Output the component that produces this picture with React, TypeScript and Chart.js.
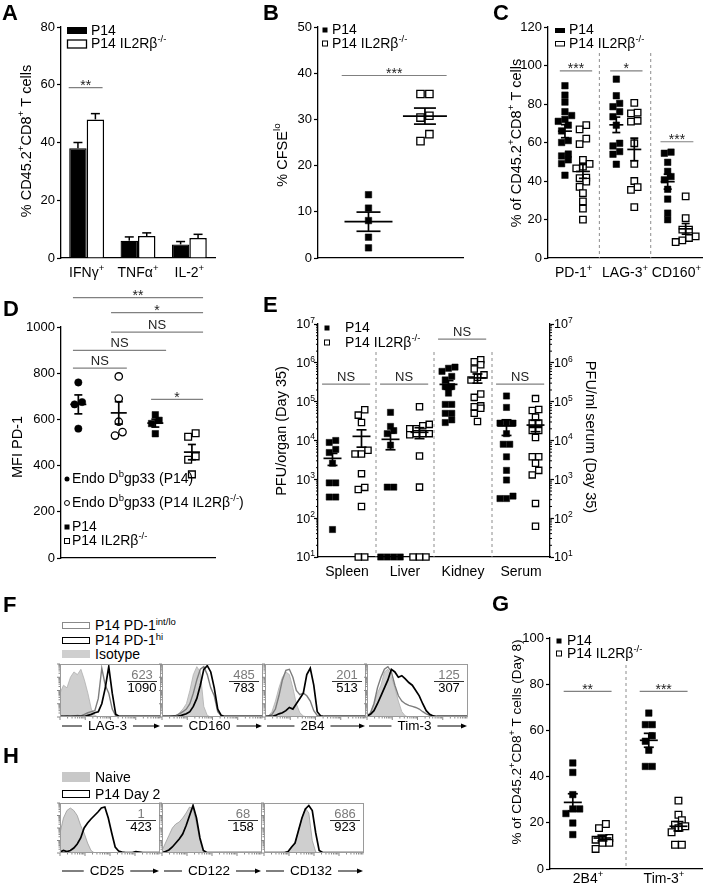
import React, { useEffect, useRef } from 'react';
import { Chart, registerables } from 'chart.js';

Chart.register(...registerables);
const FONT = '"Liberation Sans", Arial, Helvetica, sans-serif';
Chart.defaults.font.family = FONT;
Chart.defaults.font.size = 13;
Chart.defaults.color = '#000';

// ===================== DATA =====================
// Panel A (bars: mean ± SEM)
const A_CATEGORIES = ['IFNγ^{+}', 'TNFα^{+}', 'IL-2^{+}'];
const A_P14_MEAN = [38, 6.0, 4.7];
const A_P14_SEM = [2.0, 1.3, 1.0];
const A_KO_MEAN = [48, 7.6, 6.9];
const A_KO_SEM = [2.0, 1.1, 1.3];

// Panel B (% CFSElo)
const B_P14 = [13.7, 10.8, 8.1, 4.5, 2.2];
const B_KO = [35.5, 35.5, 30.8, 30.4, 26.8, 25.3];

// Panel C
const C_CATEGORIES = ['PD-1^{+}', 'LAG-3^{+}', 'CD160^{+}'];
const C_P14_PD1 = [89.5, 84.6, 81, 76, 74, 72, 71, 69, 66, 61, 60, 54, 53, 51, 49, 43];
const C_KO_PD1 = [69, 66.8, 62, 59.2, 51, 48.9, 47.5, 46.6, 41.8, 41.5, 39.7, 37, 33.7, 29.4, 25.6, 19.9];
const C_P14_LAG3 = [92.9, 84.3, 80.3, 78.6, 76, 73.4, 69, 59.6, 58.2, 55.3, 53.9, 48.7];
const C_KO_LAG3 = [80.6, 75.5, 75.1, 71.3, 70.8, 59.6, 48.9, 40, 36.8, 35.4, 26.4];
const C_P14_CD160 = [55, 54.4, 49.7, 45, 42.3, 40.6, 35.7, 30.6, 23.3, 19.9];
const C_KO_CD160 = [32, 20.7, 14.7, 14.7, 11.2, 10.4, 9.2, 8.3];

// Panel D (MFI PD-1)
const D_ENDO_P14 = [760, 675, 665, 560];
const D_ENDO_KO = [786, 690, 590, 545, 530];
const D_P14 = [620, 596, 582, 538];
const D_KO = [540, 525, 440, 425, 362];

// Panel E (PFU, day 35)
const E_CATEGORIES = ['Spleen', 'Liver', 'Kidney', 'Serum'];
const E_P14_SPLEEN = [10000, 8900, 5900, 4900, 2600, 810, 810, 350, 350, 51];
const E_KO_SPLEEN = [62000, 45000, 29000, 5600, 4500, 4500, 1400, 620, 550, 200, 10, 10];
const E_P14_LIVER = [53000, 23000, 18000, 15000, 7600, 630, 630, 10, 10, 10, 10];
const E_KO_LIVER = [74000, 26000, 24000, 20000, 20000, 15000, 15000, 15000, 14000, 4000, 630, 10, 10, 10];
const E_P14_KIDNEY = [724000, 447000, 363000, 603000, 776000, 245000, 245000, 166000, 85000, 85000, 50000, 50000, 29000, 34000];
const E_KO_KIDNEY = [1070000, 1200000, 891000, 692000, 490000, 427000, 363000, 129000, 158000, 74000, 78000, 68000, 50000, 31000];
const E_P14_SERUM = [140000, 71000, 28000, 28000, 28000, 15000, 8000, 8000, 3800, 1700, 960, 370, 320, 320];
const E_KO_SERUM = [120000, 63000, 59000, 40000, 28000, 28000, 18000, 18000, 12000, 3800, 3800, 2600, 1700, 1300, 240, 62];
const E_DECADES = [1e1, 1e2, 1e3, 1e4, 1e5, 1e6, 1e7];

// Panel G (day 8)
const G_CATEGORIES = ['2B4^{+}', 'Tim-3^{+}'];
const G_P14_2B4 = [45.9, 41.8, 32.2, 26, 26, 24, 19.9, 14.9];
const G_KO_2B4 = [19.5, 17.7, 13.4, 12.7, 12.7, 11.3, 11.3, 8.7];
const G_P14_TIM3 = [67.5, 62.5, 62.5, 57.7, 55.3, 51.4, 44.4, 44.4];
const G_KO_TIM3 = [29.6, 23.5, 21.1, 19.2, 18.5, 17.7, 15.9, 10.5, 10.5];

// Panel F histograms (30 bins, % of max)
const F_MARKERS = ['LAG-3', 'CD160', '2B4', 'Tim-3'];
const F_ISOTYPE = [
  [45, 60, 55, 75, 85, 80, 90, 70, 45, 15, 3, 0, 0, 0, 0, 0, 0, 0, 0, 0, 0, 0, 0, 0, 0, 0, 0, 0, 0, 0],
  [0, 0, 0, 0, 2, 8, 15, 25, 50, 80, 95, 85, 20, 3, 0, 0, 0, 0, 0, 0, 0, 0, 0, 0, 0, 0, 0, 0, 0, 0],
  [0, 2, 10, 30, 55, 75, 85, 80, 55, 25, 8, 2, 0, 0, 0, 0, 0, 0, 0, 0, 0, 0, 0, 0, 0, 0, 0, 0, 0, 0],
  [2, 8, 25, 45, 60, 85, 90, 75, 55, 30, 10, 2, 0, 0, 0, 0, 0, 0, 0, 0, 0, 0, 0, 0, 0, 0, 0, 0, 0, 0],
];
const F_INTLO = [
  [2, 1, 2, 1, 2, 3, 2, 5, 8, 10, 12, 35, 92, 60, 45, 15, 2, 1, 1, 1, 1, 1, 1, 1, 1, 1, 1, 1, 1, 1],
  [1, 1, 1, 2, 3, 6, 10, 15, 25, 45, 70, 90, 95, 80, 55, 40, 10, 2, 1, 1, 1, 1, 1, 1, 1, 1, 1, 1, 1, 1],
  [1, 2, 5, 15, 40, 70, 88, 90, 75, 50, 42, 45, 40, 30, 12, 3, 1, 1, 1, 1, 1, 1, 1, 1, 1, 1, 1, 1, 1, 1],
  [2, 8, 25, 55, 75, 90, 95, 85, 60, 40, 30, 25, 22, 20, 18, 15, 10, 6, 3, 1, 1, 1, 1, 1, 1, 1, 1, 1, 1, 1],
];
const F_HI = [
  [1, 1, 1, 1, 1, 1, 1, 1, 3, 5, 8, 10, 25, 55, 95, 45, 5, 1, 1, 1, 1, 1, 1, 1, 1, 1, 1, 1, 1, 1],
  [1, 1, 1, 1, 1, 2, 4, 6, 10, 20, 35, 60, 90, 97, 85, 55, 15, 3, 1, 1, 1, 1, 1, 1, 1, 1, 1, 1, 1, 1],
  [1, 1, 1, 3, 6, 8, 12, 18, 15, 25, 35, 45, 80, 92, 60, 10, 2, 1, 1, 1, 1, 1, 1, 1, 1, 1, 1, 1, 1, 1],
  [2, 5, 12, 25, 40, 55, 70, 90, 85, 75, 78, 72, 65, 60, 50, 40, 25, 12, 5, 2, 1, 1, 1, 1, 1, 1, 1, 1, 1, 1],
];
const F_MFI_INTLO = ['623', '485', '201', '125'];
const F_MFI_HI = ['1090', '783', '513', '307'];

// Panel H histograms
const H_MARKERS = ['CD25', 'CD122', 'CD132'];
const H_NAIVE = [
  [40, 70, 85, 90, 85, 75, 55, 40, 20, 5, 0, 0, 0, 0, 0, 0, 0, 0, 0, 0, 0, 0, 0, 0, 0, 0, 0, 0, 0, 0],
  [5, 20, 35, 50, 58, 62, 70, 80, 92, 88, 60, 25, 3, 0, 0, 0, 0, 0, 0, 0, 0, 0, 0, 0, 0, 0, 0, 0, 0, 0],
  [0, 0, 0, 0, 0, 0, 0, 2, 10, 20, 45, 70, 90, 80, 25, 2, 0, 0, 0, 0, 0, 0, 0, 0, 0, 0, 0, 0, 0, 0],
];
const H_DAY2 = [
  [2, 5, 3, 5, 10, 18, 30, 50, 60, 68, 75, 82, 90, 92, 70, 40, 12, 4, 2, 1, 1, 1, 3, 2, 1, 1, 1, 1, 1, 1],
  [1, 3, 6, 12, 20, 28, 38, 55, 75, 95, 70, 30, 5, 1, 1, 1, 1, 1, 1, 1, 1, 1, 1, 1, 1, 1, 1, 1, 1, 1],
  [1, 1, 1, 1, 1, 1, 1, 3, 12, 20, 45, 70, 88, 95, 85, 40, 5, 1, 1, 1, 1, 1, 1, 1, 1, 1, 1, 1, 1, 1],
];
const H_MFI_NAIVE = ['1', '68', '686'];
const H_MFI_DAY2 = ['423', '158', '923'];

// ===================== HELPERS =====================
type Box = { l: number; t: number; r: number; b: number };

function parseRich(s: string) {
  const out: { t: string; sup: boolean }[] = [];
  s.split(/(\^\{[^}]*\})/).forEach((p) => {
    if (!p) return;
    if (p.startsWith('^{')) out.push({ t: p.slice(2, -1), sup: true });
    else out.push({ t: p, sup: false });
  });
  return out;
}

function drawRich(ctx: CanvasRenderingContext2D, text: string, x: number, y: number, o: any) {
  const size = o.size || 14;
  const ss = size * 0.68;
  const segs = parseRich(text);
  ctx.save();
  ctx.translate(x, y);
  if (o.rot) ctx.rotate(o.rot);
  ctx.fillStyle = o.color || '#000';
  ctx.textBaseline = 'middle';
  ctx.textAlign = 'left';
  const fontOf = (sup: boolean) => `${o.bold ? 'bold ' : ''}${sup ? ss : size}px ${FONT}`;
  let total = 0;
  const widths = segs.map((s) => {
    ctx.font = fontOf(s.sup);
    const w = ctx.measureText(s.t).width;
    total += w;
    return w;
  });
  let cx = o.align === 'center' ? -total / 2 : o.align === 'right' ? -total : 0;
  segs.forEach((s, i) => {
    ctx.font = fontOf(s.sup);
    ctx.fillText(s.t, cx, s.sup ? -size * 0.36 : 0);
    cx += widths[i];
  });
  ctx.restore();
  return total;
}

function line(ctx: CanvasRenderingContext2D, x1: number, y1: number, x2: number, y2: number) {
  ctx.beginPath();
  ctx.moveTo(x1, y1);
  ctx.lineTo(x2, y2);
  ctx.stroke();
}

function meanSem(a: number[]) {
  const n = a.length;
  const m = a.reduce((s, v) => s + v, 0) / n;
  const sd = Math.sqrt(a.reduce((s, v) => s + (v - m) * (v - m), 0) / (n - 1));
  return { m, sem: sd / Math.sqrt(n) };
}

function swarm(vals: number[], center: number, toPx: (v: number) => number, unitPx: number, size: number) {
  const ys = vals.map(toPx);
  const order = vals.map((_, i) => i).sort((a, b) => ys[a] - ys[b]);
  const offs = new Array(vals.length).fill(0);
  let i = 0;
  while (i < order.length) {
    let j = i;
    while (j + 1 < order.length && ys[order[j + 1]] - ys[order[i]] < size * 0.9) j++;
    const n = j - i + 1;
    for (let k = 0; k < n; k++) offs[order[i + k]] = (k - (n - 1) / 2) * size;
    i = j + 1;
  }
  return vals.map((v, k) => ({ x: center + offs[k] / unitPx, y: v }));
}

function pts(label: string, points: any[], kind: string, r: number) {
  const filled = kind === 'sq' || kind === 'ci';
  const style = kind.endsWith('sq') ? 'rect' : 'circle';
  return {
    label,
    data: points,
    showLine: false,
    clip: false,
    pointStyle: style,
    pointRadius: r,
    pointBackgroundColor: filled ? '#000' : '#fff',
    backgroundColor: filled ? '#000' : '#fff',
    pointBorderColor: '#000',
    borderColor: '#000',
    pointBorderWidth: filled ? 0.5 : 1.3,
    borderWidth: filled ? 0.5 : 1.3,
  };
}

function base(canvas: Box, plot: Box, rightAxis = false) {
  return {
    responsive: false,
    maintainAspectRatio: false,
    animation: false,
    devicePixelRatio: 1,
    events: [],
    layout: { padding: { top: plot.t - canvas.t, right: rightAxis ? 0 : canvas.r - plot.r, left: 0, bottom: 0 } },
    plugins: { legend: { display: false }, tooltip: { enabled: false }, title: { display: false } },
  };
}

function linY(min: number, max: number, step: number, width: number) {
  return {
    type: 'linear',
    min,
    max,
    afterFit: (s: any) => {
      s.width = width;
    },
    ticks: { stepSize: step, font: { size: 13, family: FONT }, color: '#000', padding: 2, callback: (v: any) => String(v) },
    grid: { display: true, drawOnChartArea: false, drawTicks: true, tickLength: 4, tickColor: '#000', tickWidth: 1.2 },
    border: { display: true, color: '#000', width: 1.3 },
  };
}

function hidX(type: string, min: number | undefined, max: number | undefined, height: number) {
  const o: any = {
    type,
    afterFit: (s: any) => {
      s.height = height;
    },
    ticks: { display: false },
    grid: { display: false },
    border: { display: true, color: '#000', width: 1.3 },
  };
  if (type === 'category') o.offset = true;
  if (min !== undefined) o.min = min;
  if (max !== undefined) o.max = max;
  return o;
}

function decorPlugin(canvas: Box, fn: (d: any) => void) {
  return {
    id: 'decor',
    afterDraw(chart: any) {
      const ctx = chart.ctx as CanvasRenderingContext2D;
      const sx = chart.scales.x;
      const sy = chart.scales.y;
      const ca = chart.chartArea;
      const d = {
        ctx,
        chart,
        ox: canvas.l,
        oy: canvas.t,
        X: (v: number) => sx.getPixelForValue(v) + canvas.l,
        Y: (v: number) => sy.getPixelForValue(v) + canvas.t,
        area: { l: ca.left + canvas.l, t: ca.top + canvas.t, r: ca.right + canvas.l, b: ca.bottom + canvas.t },
      };
      ctx.save();
      ctx.translate(-canvas.l, -canvas.t);
      fn(d);
      ctx.restore();
    },
  };
}

function drawSig(d: any, x1: number, x2: number, yv: number, label: string) {
  const { ctx } = d;
  const y = d.Y(yv);
  const a = d.X(x1);
  const b = d.X(x2);
  ctx.strokeStyle = '#808080';
  ctx.lineWidth = 1.2;
  line(ctx, a, y, b, y);
  ctx.fillStyle = '#222';
  ctx.textAlign = 'center';
  ctx.textBaseline = 'alphabetic';
  if (label === 'NS') {
    ctx.font = `13px ${FONT}`;
    ctx.fillText(label, (a + b) / 2, y - 3);
  } else {
    ctx.font = `14px ${FONT}`;
    ctx.fillText(label, (a + b) / 2, y + 2.5);
  }
}

function drawMean(d: any, xc: number, vals: number[], hw: number, cw: number, floor?: number) {
  const { ctx } = d;
  const { m, sem } = meanSem(vals);
  const x = d.X(xc);
  const lo = floor !== undefined ? Math.max(m - sem, floor) : m - sem;
  const ym = d.Y(m);
  const yt = d.Y(m + sem);
  const yb = d.Y(lo);
  ctx.strokeStyle = '#000';
  ctx.lineWidth = 1.7;
  line(ctx, x - hw, ym, x + hw, ym);
  line(ctx, x, yt, x, yb);
  line(ctx, x - cw, yt, x + cw, yt);
  line(ctx, x - cw, yb, x + cw, yb);
}

function marker(ctx: CanvasRenderingContext2D, kind: string, x: number, y: number, s: number) {
  ctx.lineWidth = 1;
  ctx.strokeStyle = '#000';
  if (kind === 'sq') {
    ctx.fillStyle = '#000';
    ctx.fillRect(x - s / 2, y - s / 2, s, s);
  } else if (kind === 'hsq') {
    ctx.fillStyle = '#fff';
    ctx.fillRect(x - s / 2, y - s / 2, s, s);
    ctx.strokeRect(x - s / 2, y - s / 2, s, s);
  } else if (kind === 'ci') {
    ctx.fillStyle = '#000';
    ctx.beginPath();
    ctx.arc(x, y, s / 2, 0, Math.PI * 2);
    ctx.fill();
  } else {
    ctx.beginPath();
    ctx.arc(x, y, s / 2, 0, Math.PI * 2);
    ctx.stroke();
  }
}

function divider(d: any, xv: number, yTopPx: number) {
  const { ctx } = d;
  ctx.save();
  ctx.strokeStyle = '#8c8c8c';
  ctx.lineWidth = 1;
  ctx.setLineDash([3, 3]);
  line(ctx, d.X(xv), yTopPx, d.X(xv), d.area.b);
  ctx.restore();
}

const LEGEND_P14 = 'P14';
const LEGEND_KO = 'P14 IL2Rβ^{-/-}';
const ROT_UP = -Math.PI / 2;

// ===================== PANEL SPECS =====================
type Spec = { key: string; canvas: Box; make: () => any };

const A_CANVAS: Box = { l: 0, t: 0, r: 240, b: 292 };
const A_PLOT: Box = { l: 61, t: 27, r: 215, b: 258 };
const specA: Spec = {
  key: 'A',
  canvas: A_CANVAS,
  make: () => ({
    type: 'bar',
    data: {
      labels: A_CATEGORIES,
      datasets: [
        { label: 'P14', data: A_P14_MEAN, backgroundColor: '#000', borderColor: '#000', borderWidth: 1.3, categoryPercentage: 0.68, barPercentage: 1 },
        { label: 'P14 IL2Rb-/-', data: A_KO_MEAN, backgroundColor: '#fff', borderColor: '#000', borderWidth: 1.5, categoryPercentage: 0.68, barPercentage: 1 },
      ],
    },
    options: {
      ...base(A_CANVAS, A_PLOT),
      scales: { x: hidX('category', undefined, undefined, A_CANVAS.b - A_PLOT.b), y: linY(0, 80, 20, A_PLOT.l - A_CANVAS.l) },
    },
    plugins: [
      decorPlugin(A_CANVAS, (d) => {
        const { ctx, chart } = d;
        const sets = [
          { v: A_P14_MEAN, e: A_P14_SEM },
          { v: A_KO_MEAN, e: A_KO_SEM },
        ];
        sets.forEach((s, di) => {
          const meta = chart.getDatasetMeta(di);
          meta.data.forEach((bar: any, j: number) => {
            const x = bar.x + d.ox;
            const y0 = d.Y(s.v[j]);
            const y1 = d.Y(s.v[j] + s.e[j]);
            ctx.strokeStyle = '#000';
            ctx.lineWidth = 1.5;
            line(ctx, x, y0, x, y1);
            line(ctx, x - 4.5, y1, x + 4.5, y1);
          });
        });
        A_CATEGORIES.forEach((c, j) => drawRich(ctx, c, d.X(j), 273, { size: 14, align: 'center' }));
        drawSig(d, -0.35, 0.31, 59, '**');
        ctx.fillStyle = '#000';
        ctx.fillRect(67, 27, 20, 7);
        ctx.fillStyle = '#fff';
        ctx.strokeStyle = '#000';
        ctx.lineWidth = 1.3;
        ctx.fillRect(67.5, 40, 19, 8);
        ctx.strokeRect(67.5, 40, 19, 8);
        drawRich(ctx, LEGEND_P14, 91, 31, { size: 14 });
        drawRich(ctx, LEGEND_KO, 91, 44.5, { size: 14 });
        drawRich(ctx, '% CD45.2^{+}CD8^{+} T cells', 27, 141, { size: 14.5, align: 'center', rot: ROT_UP });
      }),
    ],
  }),
};

const B_CANVAS: Box = { l: 240, t: 0, r: 470, b: 292 };
const B_PLOT: Box = { l: 318, t: 27, r: 465, b: 258 };
const B_X = [0.347, 0.735];
const specB: Spec = {
  key: 'B',
  canvas: B_CANVAS,
  make: () => {
    const toPx = (v: number) => (v * 231) / 50;
    const unit = 147;
    return {
      type: 'scatter',
      data: {
        datasets: [
          pts('P14', swarm(B_P14, B_X[0], toPx, unit, 7.5), 'sq', 4.6),
          pts('KO', swarm(B_KO, B_X[1], toPx, unit, 9), 'hsq', 5.2),
        ],
      },
      options: {
        ...base(B_CANVAS, B_PLOT),
        scales: { x: hidX('linear', 0, 1, B_CANVAS.b - B_PLOT.b), y: linY(0, 50, 10, B_PLOT.l - B_CANVAS.l) },
      },
      plugins: [
        decorPlugin(B_CANVAS, (d) => {
          const { ctx } = d;
          drawMean(d, B_X[0], B_P14, 24, 12);
          drawMean(d, B_X[1], B_KO, 22, 11);
          drawSig(d, 0.163, 0.884, 39.5, '***');
          marker(ctx, 'sq', 325, 30, 5);
          marker(ctx, 'hsq', 325, 43.5, 5);
          drawRich(ctx, LEGEND_P14, 332, 30.5, { size: 14 });
          drawRich(ctx, LEGEND_KO, 332, 44, { size: 14 });
          drawRich(ctx, '% CFSE^{lo}', 283, 155, { size: 14.5, align: 'center', rot: ROT_UP });
        }),
      ],
    };
  },
};

const C_CANVAS: Box = { l: 470, t: 0, r: 708, b: 292 };
const C_PLOT: Box = { l: 548, t: 27, r: 705, b: 258 };
const specC: Spec = {
  key: 'C',
  canvas: C_CANVAS,
  make: () => {
    const toPx = (v: number) => (v * 231) / 120;
    const unit = 157 / 3;
    const p14 = [C_P14_PD1, C_P14_LAG3, C_P14_CD160];
    const ko = [C_KO_PD1, C_KO_LAG3, C_KO_CD160];
    const p14Pts = p14.flatMap((g, i) => swarm(g, i - 0.17, toPx, unit, 6.8));
    const koPts = ko.flatMap((g, i) => swarm(g, i + 0.18, toPx, unit, 6.8));
    return {
      type: 'scatter',
      data: { datasets: [pts('P14', p14Pts, 'sq', 4.6), pts('KO', koPts, 'hsq', 4.6)] },
      options: {
        ...base(C_CANVAS, C_PLOT),
        scales: { x: hidX('linear', -0.5, 2.5, C_CANVAS.b - C_PLOT.b), y: linY(0, 120, 20, C_PLOT.l - C_CANVAS.l) },
      },
      plugins: [
        decorPlugin(C_CANVAS, (d) => {
          const { ctx } = d;
          divider(d, 0.5, 53);
          divider(d, 1.5, 53);
          p14.forEach((g, i) => drawMean(d, i - 0.17, g, 7, 4));
          ko.forEach((g, i) => drawMean(d, i + 0.18, g, 7, 4));
          drawSig(d, -0.27, 0.36, 97.2, '***');
          drawSig(d, 0.71, 1.34, 97.2, '*');
          drawSig(d, 1.69, 2.33, 60.4, '***');
          C_CATEGORIES.forEach((c, j) => drawRich(ctx, c, d.X(j), 273, { size: 14, align: 'center' }));
          ctx.fillStyle = '#000';
          ctx.fillRect(555, 28, 10, 5);
          ctx.strokeStyle = '#000';
          ctx.lineWidth = 1;
          ctx.strokeRect(555.5, 41.5, 9, 4.5);
          drawRich(ctx, LEGEND_P14, 569, 30.5, { size: 14 });
          drawRich(ctx, LEGEND_KO, 569, 44, { size: 14 });
          drawRich(ctx, '% of CD45.2^{+}CD8^{+} T cells', 517, 143, { size: 14.5, align: 'center', rot: ROT_UP });
        }),
      ],
    };
  },
};

const D_CANVAS: Box = { l: 0, t: 285, r: 262, b: 600 };
const D_PLOT: Box = { l: 61, t: 327, r: 215, b: 558 };
const D_X = [0.45, 1.5, 2.45, 3.4];
const specD: Spec = {
  key: 'D',
  canvas: D_CANVAS,
  make: () => {
    const toPx = (v: number) => (v * 231) / 1000;
    const unit = 38.5;
    const groups = [D_ENDO_P14, D_ENDO_KO, D_P14, D_KO];
    const kinds = ['ci', 'hci', 'sq', 'hsq'];
    const radii = [3.7, 3.7, 4.6, 4.8];
    return {
      type: 'scatter',
      data: {
        datasets: groups.map((g, i) => pts('g' + i, swarm(g, D_X[i], toPx, unit, 7.5), kinds[i], radii[i])),
      },
      options: {
        ...base(D_CANVAS, D_PLOT),
        scales: { x: hidX('linear', 0, 4, D_CANVAS.b - D_PLOT.b), y: linY(0, 1000, 200, D_PLOT.l - D_CANVAS.l) },
      },
      plugins: [
        decorPlugin(D_CANVAS, (d) => {
          const { ctx } = d;
          groups.forEach((g, i) => drawMean(d, D_X[i], g, 8, 4));
          drawSig(d, 0.31, 3.69, 1127, '**');
          drawSig(d, 1.3, 3.69, 1062, '*');
          drawSig(d, 1.3, 3.69, 978, 'NS');
          drawSig(d, 0.31, 2.73, 899, 'NS');
          drawSig(d, 0.31, 1.71, 822, 'NS');
          drawSig(d, 2.34, 3.69, 687, '*');
          const rows = [
            { y: 479, m: 'ci', t: 'Endo D^{b}gp33 (P14)' },
            { y: 503, m: 'hci', t: 'Endo D^{b}gp33 (P14 IL2Rβ^{-/-})' },
            { y: 527, m: 'sq', t: 'P14' },
            { y: 541, m: 'hsq', t: 'P14 IL2Rβ^{-/-}' },
          ];
          rows.forEach((r) => {
            marker(ctx, r.m, 67, r.y, 5);
            drawRich(ctx, r.t, 72, r.y, { size: 14 });
          });
          drawRich(ctx, 'MFI PD-1', 18, 447, { size: 14.5, align: 'center', rot: ROT_UP });
        }),
      ],
    };
  },
};

const E_CANVAS: Box = { l: 262, t: 285, r: 620, b: 600 };
const E_PLOT: Box = { l: 318, t: 324, r: 550, b: 557 };
const specE: Spec = {
  key: 'E',
  canvas: E_CANVAS,
  make: () => {
    const toPx = (v: number) => ((Math.log10(v) - 1) / 6) * 233;
    const unit = 58;
    const p14 = [E_P14_SPLEEN, E_P14_LIVER, E_P14_KIDNEY, E_P14_SERUM];
    const ko = [E_KO_SPLEEN, E_KO_LIVER, E_KO_KIDNEY, E_KO_SERUM];
    const p14Pts = p14.flatMap((g, i) => swarm(g, i - 0.25, toPx, unit, 6.5));
    const koPts = ko.flatMap((g, i) => swarm(g, i + 0.25, toPx, unit, 6.5));
    const logAxis = (pos: string, width: number) => ({
      type: 'logarithmic',
      position: pos,
      min: 10,
      max: 1e7,
      afterFit: (s: any) => {
        s.width = width;
      },
      afterBuildTicks: (s: any) => {
        s.ticks = E_DECADES.map((v) => ({ value: v }));
      },
      ticks: { display: false, autoSkip: false },
      grid: { display: true, drawOnChartArea: false, drawTicks: true, tickLength: 4, tickColor: '#000', tickWidth: 1.2 },
      border: { display: true, color: '#000', width: 1.3 },
    });
    return {
      type: 'scatter',
      data: { datasets: [pts('P14', p14Pts, 'sq', 4.4), pts('KO', koPts, 'hsq', 4.4)] },
      options: {
        ...base(E_CANVAS, E_PLOT, true),
        scales: {
          x: hidX('linear', -0.5, 3.5, E_CANVAS.b - E_PLOT.b),
          y: logAxis('left', E_PLOT.l - E_CANVAS.l),
          y2: logAxis('right', E_CANVAS.r - E_PLOT.r),
        },
      },
      plugins: [
        decorPlugin(E_CANVAS, (d) => {
          const { ctx, area } = d;
          [0.5, 1.5, 2.5].forEach((x) => divider(d, x, 352));
          ctx.strokeStyle = '#000';
          ctx.lineWidth = 1;
          for (let e = 1; e < 7; e++) {
            for (let k = 2; k <= 9; k++) {
              const y = d.Y(k * Math.pow(10, e));
              line(ctx, area.l - 2, y, area.l, y);
              line(ctx, area.r, y, area.r + 2, y);
            }
          }
          E_DECADES.forEach((v) => {
            const e = Math.round(Math.log10(v));
            drawRich(ctx, `10^{${e}}`, 315, d.Y(v) + 1, { size: 12.5, align: 'right' });
            drawRich(ctx, `10^{${e}}`, 554, d.Y(v) + 1, { size: 12.5, align: 'left' });
          });
          p14.forEach((g, i) => drawMean(d, i - 0.25, g, 9, 5, 10));
          ko.forEach((g, i) => drawMean(d, i + 0.25, g, 9, 5, 10));
          drawSig(d, -0.43, 0.4, Math.pow(10, 5.45), 'NS');
          drawSig(d, 0.57, 1.4, Math.pow(10, 5.45), 'NS');
          drawSig(d, 1.57, 2.4, Math.pow(10, 6.61), 'NS');
          drawSig(d, 2.57, 3.4, Math.pow(10, 5.45), 'NS');
          E_CATEGORIES.forEach((c, j) => drawRich(ctx, c, d.X(j), 572, { size: 14, align: 'center' }));
          marker(ctx, 'sq', 327, 328, 5);
          marker(ctx, 'hsq', 327, 342.5, 5);
          drawRich(ctx, LEGEND_P14, 345, 328.5, { size: 14 });
          drawRich(ctx, LEGEND_KO, 345, 343, { size: 14 });
          drawRich(ctx, 'PFU/organ (Day 35)', 282, 431, { size: 14.5, align: 'center', rot: ROT_UP });
          drawRich(ctx, 'PFU/ml serum (Day 35)', 590, 437, { size: 14.5, align: 'center', rot: Math.PI / 2 });
        }),
      ],
    };
  },
};

const G_CANVAS: Box = { l: 470, t: 598, r: 708, b: 892 };
const G_PLOT: Box = { l: 550, t: 638, r: 705, b: 869 };
const specG: Spec = {
  key: 'G',
  canvas: G_CANVAS,
  make: () => {
    const toPx = (v: number) => (v * 231) / 100;
    const unit = 77.5;
    const p14 = [G_P14_2B4, G_P14_TIM3];
    const ko = [G_KO_2B4, G_KO_TIM3];
    const p14Pts = p14.flatMap((g, i) => swarm(g, i - 0.2, toPx, unit, 7));
    const koPts = ko.flatMap((g, i) => swarm(g, i + 0.19, toPx, unit, 7));
    return {
      type: 'scatter',
      data: { datasets: [pts('P14', p14Pts, 'sq', 4.6), pts('KO', koPts, 'hsq', 4.7)] },
      options: {
        ...base(G_CANVAS, G_PLOT),
        scales: { x: hidX('linear', -0.5, 1.5, G_CANVAS.b - G_PLOT.b), y: linY(0, 100, 20, G_PLOT.l - G_CANVAS.l) },
      },
      plugins: [
        decorPlugin(G_CANVAS, (d) => {
          const { ctx } = d;
          divider(d, 0.5, 665);
          p14.forEach((g, i) => drawMean(d, i - 0.2, g, 9, 5));
          ko.forEach((g, i) => drawMean(d, i + 0.19, g, 9, 5));
          drawSig(d, -0.32, 0.31, 76.9, '**');
          drawSig(d, 0.68, 1.31, 76.9, '***');
          G_CATEGORIES.forEach((c, j) => drawRich(ctx, c, d.X(j), 879, { size: 14, align: 'center' }));
          marker(ctx, 'sq', 559, 641, 5);
          marker(ctx, 'hsq', 559, 653.5, 5);
          drawRich(ctx, LEGEND_P14, 567, 641.5, { size: 14 });
          drawRich(ctx, LEGEND_KO, 567, 654.5, { size: 14 });
          drawRich(ctx, '% of CD45.2^{+}CD8^{+} T cells (Day 8)', 517, 742, { size: 13.5, align: 'center', rot: ROT_UP });
        }),
      ],
    };
  },
};

// Histogram panels
const BIN_LABELS = Array.from({ length: 30 }, (_, i) => String(i));
const F_BOXES: Box[] = [
  { l: 60, t: 664, r: 161, b: 717 },
  { l: 162, t: 664, r: 263, b: 717 },
  { l: 265, t: 664, r: 366, b: 717 },
  { l: 367, t: 664, r: 468, b: 717 },
];
const H_BOXES: Box[] = [
  { l: 60, t: 803, r: 160, b: 853 },
  { l: 162, t: 803, r: 262, b: 853 },
  { l: 264, t: 803, r: 364, b: 853 },
];

function histSpec(key: string, box: Box, series: any[], marker: string, top: string, bottom: string, labelDy: number): Spec {
  const canvas: Box = { l: box.l - 4, t: box.t - 2, r: box.r + 2, b: box.b + 28 };
  return {
    key,
    canvas,
    make: () => ({
      type: 'line',
      data: {
        labels: BIN_LABELS,
        datasets: series.map((s) => ({
          label: s.label,
          data: s.data,
          fill: s.fill ? 'origin' : false,
          backgroundColor: s.fill ? '#cfcfcf' : 'transparent',
          borderColor: s.color,
          borderWidth: s.width,
          pointRadius: 0,
          tension: 0,
          order: s.order,
        })),
      },
      options: {
        ...base(canvas, box),
        layout: { padding: { left: box.l - canvas.l, top: box.t - canvas.t, right: canvas.r - box.r, bottom: canvas.b - box.b } },
        scales: {
          x: { type: 'category', display: false, offset: false },
          y: { type: 'linear', display: false, min: 0, max: 100 },
        },
      },
      plugins: [
        decorPlugin(canvas, (d) => {
          const { ctx, area } = d;
          const w = area.r - area.l;
          const h = area.b - area.t;
          ctx.strokeStyle = '#9a9a9a';
          ctx.lineWidth = 1;
          ctx.strokeRect(area.l + 0.5, area.t + 0.5, w - 1, h - 1);
          ctx.strokeStyle = '#888';
          for (let k = 0; k < 4; k++) {
            for (let m = 1; m <= 9; m++) {
              const x = area.l + ((k + Math.log10(m)) / 4) * w;
              line(ctx, x, area.b, x, area.b + (m === 1 ? 3 : 1.5));
            }
          }
          for (let k = 0; k < 5; k++) {
            for (let m = 1; m <= 9; m++) {
              if (k === 4 && m > 1) break;
              const y = area.b - ((k + Math.log10(m)) / 4) * h;
              line(ctx, area.l - (m === 1 ? 3 : 1.5), y, area.l, y);
            }
          }
          const cx = area.r - 19;
          ctx.font = `13px ${FONT}`;
          ctx.textAlign = 'center';
          ctx.textBaseline = 'middle';
          ctx.fillStyle = '#7a7a7a';
          ctx.fillText(top, cx, area.t + 11);
          ctx.strokeStyle = '#333';
          ctx.lineWidth = 1;
          line(ctx, area.r - 34, area.t + 17.5, area.r - 4, area.t + 17.5);
          ctx.fillStyle = '#000';
          ctx.fillText(bottom, cx, area.t + 24.5);
          // axis label with arrow
          const y = area.b + labelDy;
          ctx.font = `13.5px ${FONT}`;
          const tw = ctx.measureText(marker).width;
          const tc = area.l + 0.47 * w;
          const t1 = tc - tw / 2;
          const t2 = tc + tw / 2;
          ctx.strokeStyle = '#000';
          ctx.lineWidth = 1;
          line(ctx, area.l + 2, y, t1 - 6, y);
          line(ctx, t2 + 6, y, area.r - 5, y);
          ctx.beginPath();
          ctx.moveTo(area.r - 1, y);
          ctx.lineTo(area.r - 7, y - 2.5);
          ctx.lineTo(area.r - 7, y + 2.5);
          ctx.closePath();
          ctx.fill();
          ctx.textAlign = 'left';
          ctx.fillText(marker, t1, y);
        }),
      ],
    }),
  };
}

const F_SPECS: Spec[] = F_MARKERS.map((m, i) =>
  histSpec(
    'F' + i,
    F_BOXES[i],
    [
      { label: 'Isotype', data: F_ISOTYPE[i], fill: true, color: '#b0b0b0', width: 0.8, order: 3 },
      { label: 'P14 PD-1 int/lo', data: F_INTLO[i], fill: false, color: '#7d7d7d', width: 1.4, order: 2 },
      { label: 'P14 PD-1 hi', data: F_HI[i], fill: false, color: '#000', width: 1.7, order: 1 },
    ],
    m,
    F_MFI_INTLO[i],
    F_MFI_HI[i],
    9
  )
);

const H_SPECS: Spec[] = H_MARKERS.map((m, i) =>
  histSpec(
    'H' + i,
    H_BOXES[i],
    [
      { label: 'Naive', data: H_NAIVE[i], fill: true, color: '#9c9c9c', width: 0.8, order: 2 },
      { label: 'P14 Day 2', data: H_DAY2[i], fill: false, color: '#000', width: 1.7, order: 1 },
    ],
    m,
    H_MFI_NAIVE[i],
    H_MFI_DAY2[i],
    18
  )
);

const SPECS: Spec[] = [specA, specB, specC, specD, specE, specG, ...F_SPECS, ...H_SPECS];

// ===================== COMPONENTS =====================
function ChartCanvas({ spec }: { spec: Spec }) {
  const ref = useRef<HTMLCanvasElement | null>(null);
  useEffect(() => {
    const chart = new Chart(ref.current as HTMLCanvasElement, spec.make());
    return () => chart.destroy();
  }, [spec]);
  const w = spec.canvas.r - spec.canvas.l;
  const h = spec.canvas.b - spec.canvas.t;
  return (
    <canvas
      ref={ref}
      width={w}
      height={h}
      style={{ position: 'absolute', left: spec.canvas.l, top: spec.canvas.t, width: w, height: h }}
    />
  );
}

const Sup = ({ children }: { children: any }) => (
  <span style={{ fontSize: '0.68em', position: 'relative', top: '-0.48em' }}>{children}</span>
);

function Letter({ x, y, t }: { x: number; y: number; t: string }) {
  return (
    <div style={{ position: 'absolute', left: x, top: y, fontSize: 22, lineHeight: '22px', fontWeight: 'bold', fontFamily: FONT }}>{t}</div>
  );
}

function LegendRow({ y, box, children }: { y: number; box: any; children: any }) {
  return (
    <>
      <div style={{ position: 'absolute', left: 62, top: y - box.h / 2, width: 28, height: box.h, boxSizing: 'border-box', ...box.style }} />
      <div style={{ position: 'absolute', left: 95, top: y - 8, lineHeight: '16px', fontSize: 14, fontFamily: FONT, whiteSpace: 'nowrap' }}>{children}</div>
    </>
  );
}

export default function App() {
  return (
    <div style={{ position: 'absolute', left: 0, top: 0, width: 708, height: 892, background: '#fff', overflow: 'hidden', fontFamily: FONT }}>
      {SPECS.map((s) => (
        <ChartCanvas key={s.key} spec={s} />
      ))}
      <Letter x={2} y={2} t="A" />
      <Letter x={263} y={2} t="B" />
      <Letter x={493} y={2} t="C" />
      <Letter x={3} y={298} t="D" />
      <Letter x={263} y={294} t="E" />
      <Letter x={3} y={594} t="F" />
      <Letter x={492} y={593} t="G" />
      <Letter x={3} y={745} t="H" />

      <LegendRow y={625} box={{ h: 7, style: { border: '1.3px solid #8a8a8a', background: '#fff' } }}>
        P14 PD-1<Sup>int/lo</Sup>
      </LegendRow>
      <LegendRow y={640} box={{ h: 7, style: { border: '1.6px solid #000', background: '#fff' } }}>
        P14 PD-1<Sup>hi</Sup>
      </LegendRow>
      <LegendRow y={654} box={{ h: 8, style: { background: '#cfcfcf' } }}>
        Isotype
      </LegendRow>
      <LegendRow y={777} box={{ h: 10, style: { background: '#c8c8c8' } }}>
        Naive
      </LegendRow>
      <LegendRow y={794} box={{ h: 8, style: { border: '1.6px solid #000', background: '#fff' } }}>
        P14 Day 2
      </LegendRow>
    </div>
  );
}
